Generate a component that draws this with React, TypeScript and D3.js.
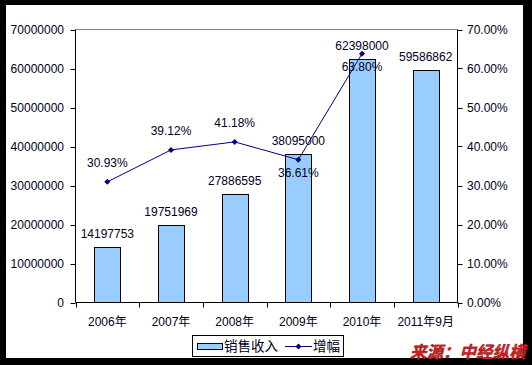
import React from 'react';
import * as d3 from 'd3';

// Chart data
const categories = ['2006年', '2007年', '2008年', '2009年', '2010年', '2011年9月'];
const revenue = [14197753, 19751969, 27886595, 38095000, 62398000, 59586862];
const growth = [0.3093, 0.3912, 0.4118, 0.3661, 0.638, null];
const growthLabelPos = ['above', 'above', 'above', 'below', 'below', 'above'];
const leftTicks = [0, 10000000, 20000000, 30000000, 40000000, 50000000, 60000000, 70000000];
const rightTicks = [0, 0.1, 0.2, 0.3, 0.4, 0.5, 0.6, 0.7];
const legendLabels = ['销售收入', '增幅'];
const sourceText = '来源：中经纵横';

const W = 532;
const H = 365;
const plot = { left: 75.5, right: 457.5, top: 29.5, bottom: 302.5 };
const FONT = '"Liberation Sans", Arial, "Noto Sans CJK SC", sans-serif';
const TEXT = '#000022';

export default function App() {
  const x = d3.scaleBand<string>()
    .domain(categories)
    .range([plot.left, plot.right])
    .paddingInner(0.59)
    .paddingOuter(0.295);
  const y = d3.scaleLinear().domain([0, 70000000]).range([plot.bottom, plot.top]);
  const yR = d3.scaleLinear().domain([0, 0.7]).range([plot.bottom, plot.top]);
  const cx = (c: string) => (x(c) as number) + x.bandwidth() / 2;

  const pts = categories
    .map((c, i) => ({ c, v: growth[i], pos: growthLabelPos[i] }))
    .filter(d => d.v !== null) as { c: string; v: number; pos: string }[];

  const line = d3.line<{ c: string; v: number }>()
    .x(d => cx(d.c))
    .y(d => yR(d.v));

  const diamond = d3.symbol().type(d3.symbolSquare).size(18)();
  const fmtPct = d3.format('.2%');

  const step = x.step();
  const boundaries = d3.range(categories.length + 1).map(i => plot.left + i * step);

  return (
    <svg width={W} height={H} style={{ position: 'absolute', left: 0, top: 0 }} fontFamily={FONT}>
      <rect x={0} y={0} width={W} height={H} fill="#000" />
      <rect x={6} y={5} width={517} height={353} fill="#fff" />

      {/* plot frame */}
      <line x1={plot.left} x2={plot.right} y1={plot.top} y2={plot.top} stroke="#808080" />

      {/* bars */}
      {categories.map((c, i) => (
        <rect key={c}
          x={Math.round(x(c) as number) + 0.5}
          y={Math.round(y(revenue[i])) + 0.5}
          width={Math.round(x.bandwidth())}
          height={plot.bottom - Math.round(y(revenue[i])) - 0.5}
          fill="#99CCFF" stroke="#000" />
      ))}

      {/* axes */}
      <line x1={plot.left} x2={plot.left} y1={plot.top} y2={plot.bottom} stroke="#000" />
      <line x1={plot.right} x2={plot.right} y1={plot.top} y2={plot.bottom} stroke="#000" />
      <line x1={plot.left} x2={plot.right} y1={plot.bottom} y2={plot.bottom} stroke="#000" />

      {leftTicks.map(t => (
        <g key={'l' + t}>
          <line x1={plot.left - 5} x2={plot.left} y1={Math.round(y(t)) + 0.5} y2={Math.round(y(t)) + 0.5} stroke="#000" />
          <text x={64} y={y(t)} dy="0.35em" textAnchor="end" fontSize={12} fill={TEXT}>{t}</text>
        </g>
      ))}
      {rightTicks.map(t => (
        <g key={'r' + t}>
          <line x1={plot.right} x2={plot.right + 5} y1={Math.round(yR(t)) + 0.5} y2={Math.round(yR(t)) + 0.5} stroke="#000" />
          <text x={467} y={yR(t)} dy="0.35em" textAnchor="start" fontSize={12} fill={TEXT}>{fmtPct(t)}</text>
        </g>
      ))}
      {boundaries.map((b, i) => (
        <line key={'b' + i} x1={Math.round(b) + 0.5} x2={Math.round(b) + 0.5} y1={plot.bottom} y2={plot.bottom + 5} stroke="#000" />
      ))}
      {categories.map(c => (
        <text key={'x' + c} x={cx(c)} y={326} textAnchor="middle" fontSize={12} fill={TEXT}>{c}</text>
      ))}

      {/* line series */}
      <path d={line(pts) || ''} fill="none" stroke="#000080" strokeWidth={1} />
      {pts.map(d => (
        <path key={'m' + d.c} d={diamond || ''} fill="#000080"
          transform={`translate(${cx(d.c)},${yR(d.v)}) rotate(45)`} />
      ))}

      {/* value labels */}
      {categories.map((c, i) => (
        <text key={'v' + c} x={cx(c)} y={y(revenue[i]) - 9} textAnchor="middle" fontSize={12} fill={TEXT}>{revenue[i]}</text>
      ))}
      {pts.map(d => (
        <text key={'p' + d.c} x={cx(d.c)} y={d.pos === 'above' ? yR(d.v) - 15 : yR(d.v) + 17}
          textAnchor="middle" fontSize={12} fill={TEXT}>{fmtPct(d.v)}</text>
      ))}

      {/* legend */}
      <g>
        <rect x={192.5} y={335.5} width={151} height={21} fill="#fff" stroke="#000" />
        <rect x={197.5} y={343.5} width={25} height={6} fill="#99CCFF" stroke="#000" />
        <text x={224} y={351} fontSize={13.5} fill={TEXT}>{legendLabels[0]}</text>
        <line x1={285} x2={312} y1={346.5} y2={346.5} stroke="#000080" />
        <path d={diamond || ''} fill="#000080" transform="translate(298.5,346.5) rotate(45)" />
        <text x={313} y={351} fontSize={13.5} fill={TEXT}>{legendLabels[1]}</text>
      </g>

      {/* source */}
      <text x={410} y={358} fontSize={16.5} fontWeight="bold" fontStyle="italic"
        fill="#D42020" stroke="#8a1010" strokeWidth={0.4}>{sourceText}</text>
    </svg>
  );
}
